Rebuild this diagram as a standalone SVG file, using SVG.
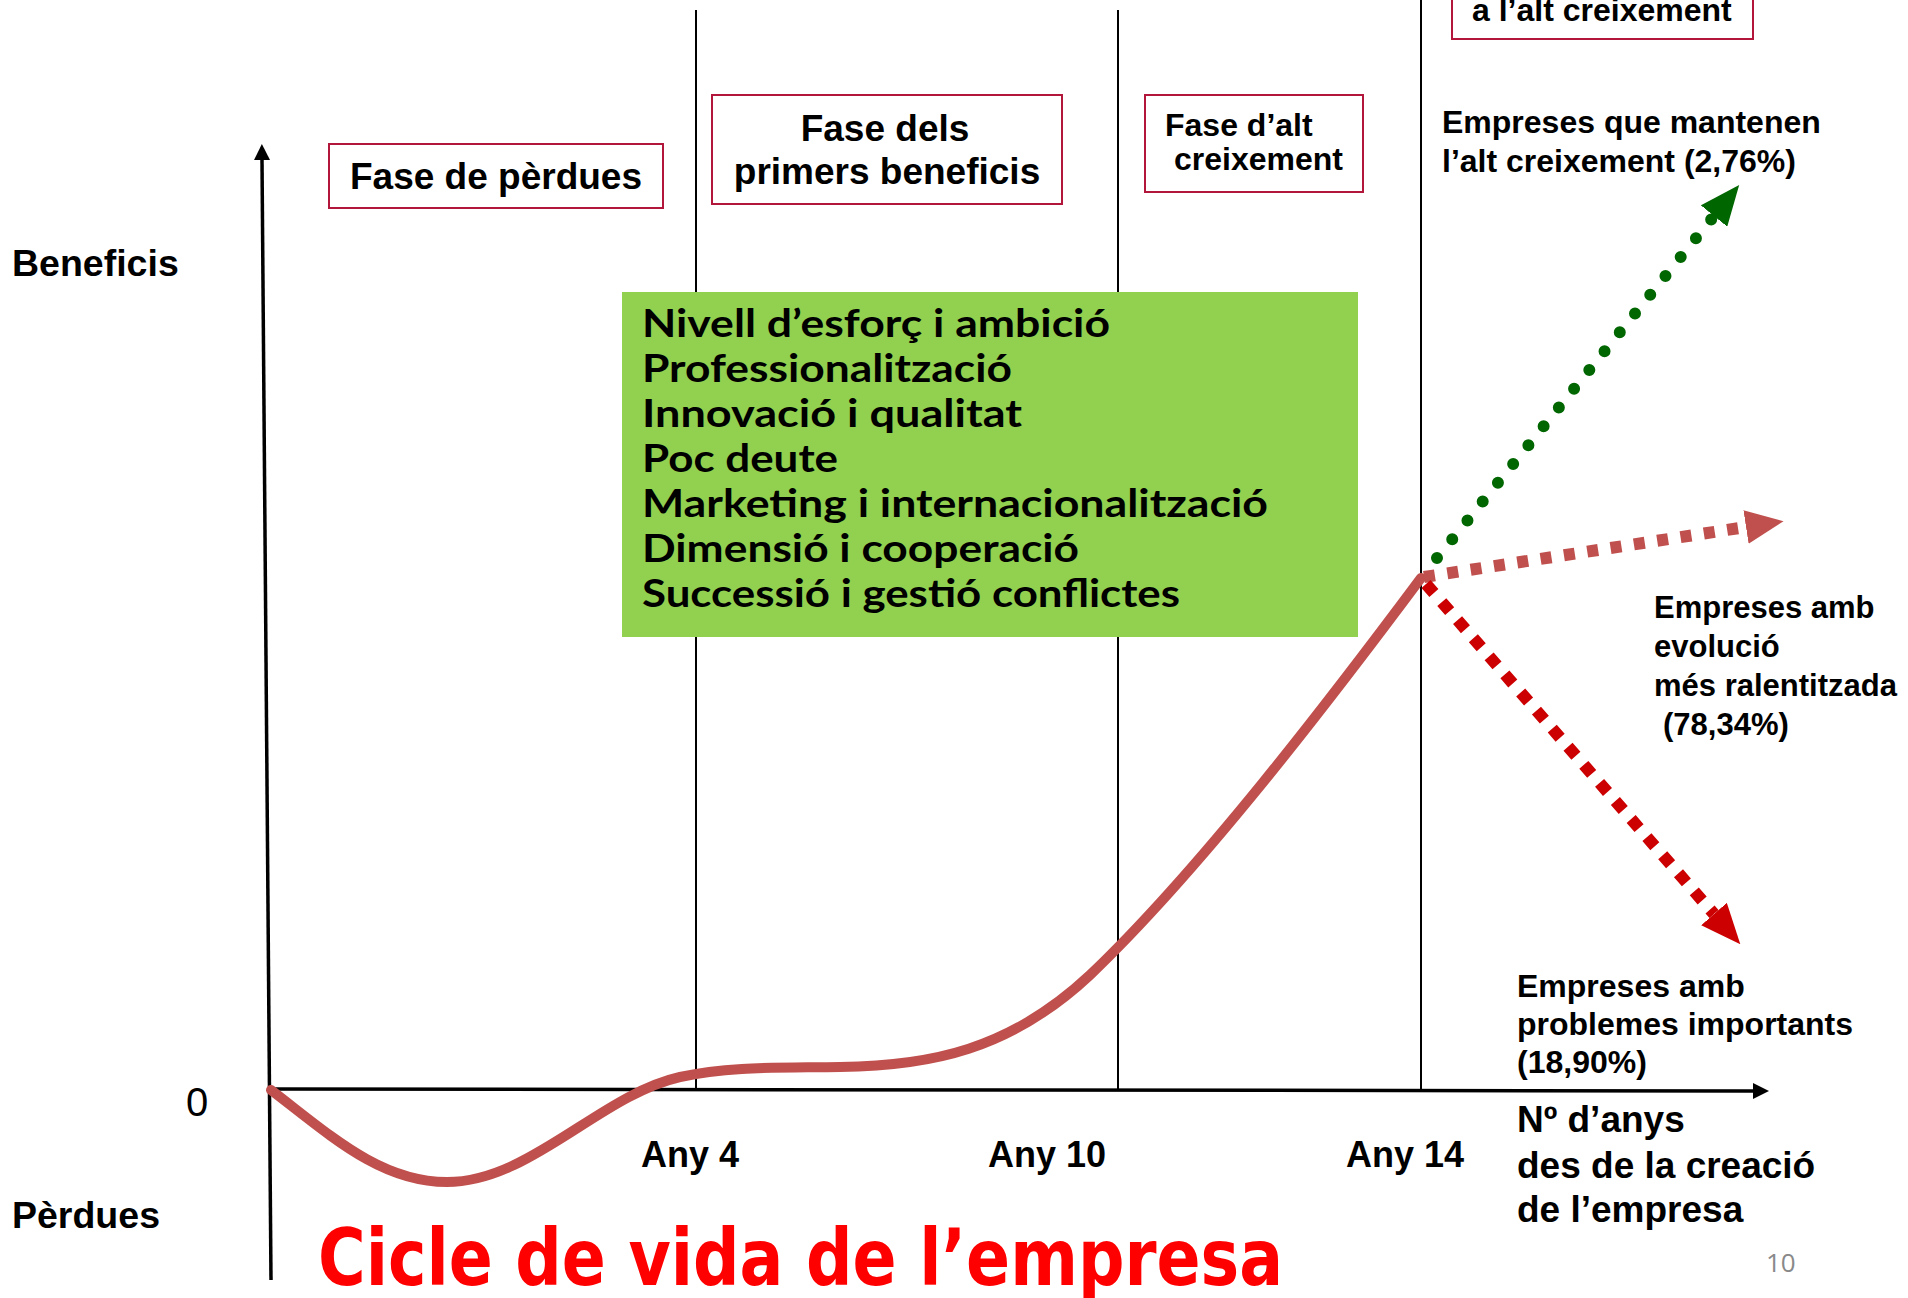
<svg xmlns="http://www.w3.org/2000/svg" width="1908" height="1298" viewBox="0 0 1908 1298">
<style>
.lab{font-family:"Liberation Sans",Arial,sans-serif;font-weight:bold;fill:#000}
.phase{fill:#fff;stroke:#B2173B;stroke-width:2}
.grid{stroke:#000;stroke-width:2;fill:none}
.axis{stroke:#000;stroke-width:3.5;fill:none}
.fac{font-family:Lato,"Open Sans",sans-serif;font-weight:bold;font-size:37.5px;fill:#000}
</style>
<defs>
<marker id="axArrow" markerUnits="userSpaceOnUse" viewBox="0 0 16 16" markerWidth="16" markerHeight="16" refX="0" refY="8" orient="auto">
<path d="M0,0 L16,8 L0,16 z" fill="#000"/>
</marker>
<marker id="greenArrow" markerUnits="userSpaceOnUse" viewBox="0 0 40 34" markerWidth="40" markerHeight="34" refX="0" refY="17" orient="auto">
<path d="M0,0 L40,17 L0,34 z" fill="#006600"/>
</marker>
<marker id="brownArrow" markerUnits="userSpaceOnUse" viewBox="0 0 38 34" markerWidth="38" markerHeight="34" refX="0" refY="17" orient="auto">
<path d="M0,0 L38,17 L0,34 z" fill="#C0504D"/>
</marker>
<marker id="redArrow" markerUnits="userSpaceOnUse" viewBox="0 0 40 34" markerWidth="40" markerHeight="34" refX="0" refY="17" orient="auto">
<path d="M0,0 L40,17 L0,34 z" fill="#CC0000"/>
</marker>
</defs>
<rect x="0" y="0" width="1908" height="1298" fill="#fff"/>

<g id="connectors">
<line class="grid" x1="696" y1="10" x2="696" y2="1089"/>
<line class="grid" x1="1118" y1="10" x2="1118" y2="1089"/>
<line class="grid" x1="1421" y1="0" x2="1421" y2="1089"/>
<line id="y-axis" class="axis" x1="271" y1="1280" x2="262" y2="160" marker-end="url(#axArrow)"/>
<line id="x-axis" class="axis" x1="271" y1="1089" x2="1753" y2="1091" marker-end="url(#axArrow)"/>
<path id="life-curve" d="M271,1090 C330,1135 380,1182 447,1182 C530,1182 600,1095 680,1077 C730,1066 780,1068 840,1067 C930,1066 1010,1050 1090,975 C1200,870 1330,700 1421,578" fill="none" stroke="#C0504D" stroke-width="10" stroke-linecap="round"/>
<path id="branch-high" d="M1437,558 L1714,216" fill="none" stroke="#006600" stroke-width="12" stroke-linecap="round" stroke-dasharray="0 24.2" marker-end="url(#greenArrow)"/>
<path id="branch-slow" d="M1424,577 L1746,527" fill="none" stroke="#C0504D" stroke-width="12" stroke-dasharray="11 12.6" marker-end="url(#brownArrow)"/>
<path id="branch-problems" d="M1426,584 L1714,914" fill="none" stroke="#CC0000" stroke-width="12" stroke-dasharray="12 12" marker-end="url(#redArrow)"/>
</g>

<g id="axis-labels">
<text class="lab" x="12" y="276" font-size="37.5">Beneficis</text>
<text class="lab" x="12" y="1228" font-size="37.5">Pèrdues</text>
<text x="186" y="1116" font-family="Liberation Sans, Arial, sans-serif" font-size="40" fill="#000">0</text>
<text class="lab" x="641" y="1167" font-size="36">Any 4</text>
<text class="lab" x="988" y="1167" font-size="36">Any 10</text>
<text class="lab" x="1346" y="1167" font-size="36">Any 14</text>
<text class="lab" font-size="37"><tspan x="1517" y="1132">Nº d’anys</tspan><tspan x="1517" y="1178">des de la creació</tspan><tspan x="1517" y="1222">de l’empresa</tspan></text>
</g>

<g id="phase-losses">
<rect class="phase" x="329" y="144" width="334" height="64"/>
<text class="lab" x="496" y="189" font-size="37" text-anchor="middle">Fase de pèrdues</text>
</g>
<g id="phase-first-profits">
<rect class="phase" x="712" y="95" width="350" height="109"/>
<text class="lab" font-size="37" text-anchor="middle"><tspan x="885" y="141">Fase dels</tspan><tspan x="887" y="184">primers beneficis</tspan></text>
</g>
<g id="phase-high-growth">
<rect class="phase" x="1145" y="95" width="218" height="97"/>
<text class="lab" font-size="32"><tspan x="1165" y="136">Fase d’alt</tspan><tspan x="1174" y="170">creixement</tspan></text>
</g>
<g id="phase-top">
<rect class="phase" x="1452" y="-20" width="301" height="59"/>
<text class="lab" x="1472" y="21" font-size="32">a l’alt creixement</text>
</g>

<g id="factors">
<rect x="622" y="292" width="736" height="345" fill="#92D050"/>
<text class="fac" x="642" y="337" textLength="468" lengthAdjust="spacingAndGlyphs">Nivell d’esforç i ambició</text>
<text class="fac" x="642" y="382" textLength="370" lengthAdjust="spacingAndGlyphs">Professionalització</text>
<text class="fac" x="642" y="427" textLength="380" lengthAdjust="spacingAndGlyphs">Innovació i qualitat</text>
<text class="fac" x="642" y="472" textLength="196" lengthAdjust="spacingAndGlyphs">Poc deute</text>
<text class="fac" x="642" y="517" textLength="626" lengthAdjust="spacingAndGlyphs">Marketing i internacionalització</text>
<text class="fac" x="642" y="562" textLength="437" lengthAdjust="spacingAndGlyphs">Dimensió i cooperació</text>
<text class="fac" x="642" y="607" textLength="538" lengthAdjust="spacingAndGlyphs">Successió i gestió conflictes</text>
</g>

<g id="label-high">
<text class="lab" font-size="32"><tspan x="1442" y="133">Empreses que mantenen</tspan><tspan x="1442" y="172">l’alt creixement (2,76%)</tspan></text>
</g>
<g id="label-slow">
<text class="lab" font-size="31"><tspan x="1654" y="618">Empreses amb</tspan><tspan x="1654" y="657">evolució</tspan><tspan x="1654" y="696">més ralentitzada</tspan><tspan x="1663" y="735">(78,34%)</tspan></text>
</g>
<g id="label-problems">
<text class="lab" font-size="32"><tspan x="1517" y="997">Empreses amb</tspan><tspan x="1517" y="1035">problemes importants</tspan><tspan x="1517" y="1073">(18,90%)</tspan></text>
</g>

<g id="title">
<text x="318" y="1285" font-family="DejaVu Sans, Verdana, sans-serif" font-weight="bold" font-stretch="condensed" font-size="78" fill="#FF0000" textLength="965" lengthAdjust="spacingAndGlyphs">Cicle de vida de l’empresa</text>
</g>
<g id="page-number">
<text x="1766" y="1272" font-family="Open Sans, Liberation Sans, sans-serif" font-size="26" fill="#898989">10</text>
</g>
</svg>
